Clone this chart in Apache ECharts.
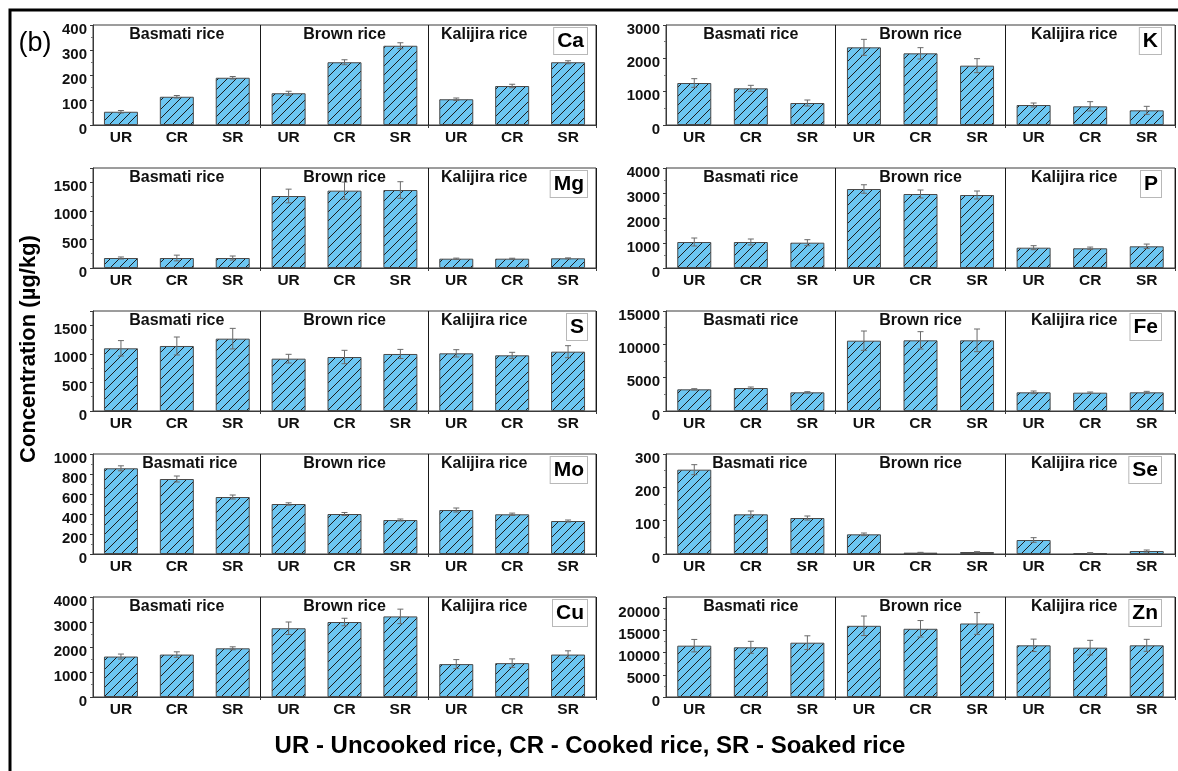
<!DOCTYPE html>
<html>
<head>
<meta charset="utf-8">
<script src="https://cdn.jsdelivr.net/npm/echarts@6/dist/echarts.min.js"></script>
<style>
  html, body { margin: 0; padding: 0; background: #fff; }
  #chart { width: 1178px; height: 771px; }
</style>
</head>
<body>
<div id="chart"></div>
<script>
// Treatments and rice varieties
const treatments = ['UR', 'CR', 'SR'];
const riceTypes = ['Basmati rice', 'Brown rice', 'Kalijira rice'];

// Elements, in panel order (row by row, left then right)
const elements = ['Ca', 'K', 'Mg', 'P', 'S', 'Fe', 'Mo', 'Se', 'Cu', 'Zn'];

// Mean concentration (µg/kg), 9 values: Basmati UR/CR/SR, Brown UR/CR/SR, Kalijira UR/CR/SR
const caMean = [53, 113, 189, 127, 251, 317, 103, 156, 251];
const kMean  = [1260, 1100, 660, 2330, 2150, 1780, 600, 560, 440];
const mgMean = [175, 175, 175, 1260, 1354, 1365, 163, 163, 169];
const pMean  = [1040, 1040, 1013, 3160, 2960, 2920, 813, 787, 867];
const sMean  = [1097, 1138, 1266, 916, 945, 998, 1009, 974, 1038];
const feMean = [3250, 3450, 2800, 10550, 10600, 10600, 2800, 2750, 2800];
const moMean = [857, 750, 570, 500, 400, 340, 440, 397, 330];
const seMean = [253, 119, 108, 59, 4, 6, 42, 3, 9];
const cuMean = [1618, 1697, 1947, 2750, 3000, 3224, 1316, 1355, 1697];
const znMean = [11550, 11177, 12220, 16020, 15350, 16540, 11624, 11100, 11624];

// Standard deviations (µg/kg), same order
const caErr = [5, 5, 5, 8, 10, 12, 5, 7, 6];
const kErr  = [130, 90, 90, 240, 170, 210, 60, 140, 120];
const mgErr = [18, 50, 35, 120, 150, 145, 10, 8, 8];
const pErr  = [160, 120, 120, 170, 160, 160, 80, 50, 90];
const sErr  = [135, 157, 180, 76, 117, 80, 64, 53, 105];
const feErr = [100, 150, 100, 1450, 1300, 1700, 200, 100, 150];
const moErr = [25, 30, 20, 12, 15, 10, 20, 12, 10];
const seErr = [15, 10, 6, 4, 1, 1, 7, 1, 3];
const cuErr = [100, 110, 60, 250, 150, 290, 180, 170, 150];
const znErr = [1400, 1350, 1550, 2200, 1850, 2450, 1400, 1650, 1350];

// Y axis range and tick step per element
const yMaxes = [400, 3000, 1750, 4000, 1750, 15000, 1000, 300, 4000, 22500];
const ySteps = [100, 1000, 500, 1000, 500, 5000, 200, 100, 1000, 5000];

const means = [caMean, kMean, mgMean, pMean, sMean, feMean, moMean, seMean, cuMean, znMean];
const errs  = [caErr, kErr, mgErr, pErr, sErr, feErr, moErr, seErr, cuErr, znErr];

// ---- layout ----
const FONT = '"Liberation Sans", Arial, sans-serif';
const colX = [[93, 596], [666, 1175]];
const rowTop = [25, 168, 311, 454, 597];
const panelH = 100;
const boxInset = [9, 14];
// the tallest Basmati bars (Mo, Se) push their label to the right
const basmatiShift = [0, 0, 0, 0, 0, 0, 13, 9, 0, 0];

// Diagonal hatch fill for the bars
function hatchPattern() {
  const s = 9;
  const c = document.createElement('canvas');
  c.width = s; c.height = s;
  const g = c.getContext('2d');
  g.fillStyle = '#6cc6f2';
  g.fillRect(0, 0, s, s);
  g.strokeStyle = '#1c1c1c';
  g.lineWidth = 1;
  g.beginPath();
  g.moveTo(-1, s + 1); g.lineTo(s + 1, -1);
  g.moveTo(-2, 2); g.lineTo(2, -2);
  g.moveTo(s - 2, s + 2); g.lineTo(s + 2, s - 2);
  g.stroke();
  return c;
}
const hatch = { image: hatchPattern(), repeat: 'repeat' };

const catKeys = [];
riceTypes.forEach(r => treatments.forEach(t => catKeys.push(r + '|' + t)));
const isDivider = (i) => i === 3 || i === 6;

const grids = [], xAxes = [], yAxes = [], series = [], graphics = [];

elements.forEach((el, p) => {
  const col = p % 2, row = Math.floor(p / 2);
  const [x0, x1] = colX[col];
  const top = rowTop[row];
  grids.push({
    left: x0, top: top, width: x1 - x0, height: panelH,
    show: true, borderColor: '#3a3a3a', borderWidth: 1, backgroundColor: 'transparent'
  });
  xAxes.push({
    type: 'category', gridIndex: p, data: catKeys, boundaryGap: true,
    axisLine: { show: true, lineStyle: { color: '#3a3a3a', width: 1 } },
    axisTick: { show: true, length: 3, interval: isDivider, lineStyle: { color: '#3a3a3a' } },
    splitLine: { show: true, interval: isDivider, lineStyle: { color: '#1a1a1a', width: 1 } },
    axisLabel: {
      interval: 0, margin: 5, color: '#111', fontFamily: FONT, fontWeight: 'bold', fontSize: 15.5,
      formatter: v => v.split('|')[1]
    }
  });
  const max = yMaxes[p], step = ySteps[p];
  yAxes.push({
    type: 'value', gridIndex: p, min: 0, max: max, interval: step,
    axisLine: { show: true, lineStyle: { color: '#3a3a3a', width: 1 } },
    axisTick: { show: true, length: 3, lineStyle: { color: '#3a3a3a' } },
    minorTick: { show: true, splitNumber: 2, length: 2, lineStyle: { color: '#777' } },
    splitLine: { show: false },
    axisLabel: {
      margin: 6, showMaxLabel: max % step === 0,
      formatter: v => '{n|' + v + '}',
      rich: {
        n: { color: '#111', fontFamily: FONT, fontWeight: 'bold', fontSize: 15, padding: [9, 0, 0, 0] }
      }
    }
  });
  series.push({
    type: 'bar', xAxisIndex: p, yAxisIndex: p, barWidth: 34,
    data: means[p],
    itemStyle: { color: hatch, borderColor: '#4a4a4a', borderWidth: 1 },
    silent: true, animation: false
  });
  series.push({
    type: 'custom', xAxisIndex: p, yAxisIndex: p,
    data: means[p].map((v, i) => [i, v, errs[p][i]]),
    encode: { x: 0, y: [1, 2] },
    silent: true, animation: false, z: 5,
    renderItem: (params, api) => {
      const i = api.value(0), v = api.value(1), e = api.value(2);
      const hi = api.coord([i, v + e]);
      const lo = api.coord([i, Math.max(0, v - e)]);
      const hw = 3;
      const st = { stroke: '#6a6a6a', lineWidth: 1 };
      return {
        type: 'group', children: [
          { type: 'line', shape: { x1: hi[0], y1: hi[1], x2: lo[0], y2: lo[1] }, style: st },
          { type: 'line', shape: { x1: hi[0] - hw, y1: hi[1], x2: hi[0] + hw, y2: hi[1] }, style: st },
          { type: 'line', shape: { x1: lo[0] - hw, y1: lo[1], x2: lo[0] + hw, y2: lo[1] }, style: st }
        ]
      };
    }
  });

  // rice-variety labels at the top of each group
  const slot = (x1 - x0) / 9;
  riceTypes.forEach((r, g) => {
    let cx = x0 + (g * 3 + 1.5) * slot;
    if (g === 0) cx += basmatiShift[p];
    if (g === 2) cx -= (col === 0 ? 28 : 16);
    graphics.push({
      type: 'text', x: cx, y: top + 10, silent: true, z: 10,
      style: {
        text: r, fill: '#111', font: 'bold 16px ' + FONT,
        textAlign: 'center', textVerticalAlign: 'middle'
      }
    });
  });
  // element tag in the top right corner
  graphics.push({
    type: 'text', x: x1 - boxInset[col], y: top + 3, silent: true, z: 10,
    style: {
      text: el, fill: '#000', font: 'bold 21px ' + FONT,
      textAlign: 'right', textVerticalAlign: 'top',
      backgroundColor: '#fff', borderColor: '#b8b8b8', borderWidth: 1,
      padding: [3, 3, 2, 3]
    }
  });
});

// outer frame
graphics.push({
  type: 'rect', shape: { x: 10, y: 10, width: 1200, height: 800 }, silent: true, z: 0,
  style: { fill: null, stroke: '#000', lineWidth: 3 }
});
// panel tag
graphics.push({
  type: 'text', x: 35, y: 44, silent: true,
  style: { text: '(b)', fill: '#000', font: '27px ' + FONT, textAlign: 'center', textVerticalAlign: 'middle' }
});
// shared y axis title
graphics.push({
  type: 'text', x: 29, y: 349, rotation: Math.PI / 2, silent: true,
  style: { text: 'Concentration (µg/kg)', fill: '#000', font: 'bold 22px ' + FONT, textAlign: 'center', textVerticalAlign: 'middle' }
});
// legend of treatment abbreviations
graphics.push({
  type: 'text', x: 590, y: 746, silent: true,
  style: { text: 'UR - Uncooked rice, CR - Cooked rice, SR - Soaked rice', fill: '#000', font: 'bold 24px ' + FONT, textAlign: 'center', textVerticalAlign: 'middle' }
});

const chart = echarts.init(document.getElementById('chart'), null, { renderer: 'canvas' });
chart.setOption({
  animation: false,
  backgroundColor: '#fff',
  grid: grids, xAxis: xAxes, yAxis: yAxes, series: series, graphic: graphics
});
</script>
</body>
</html>
